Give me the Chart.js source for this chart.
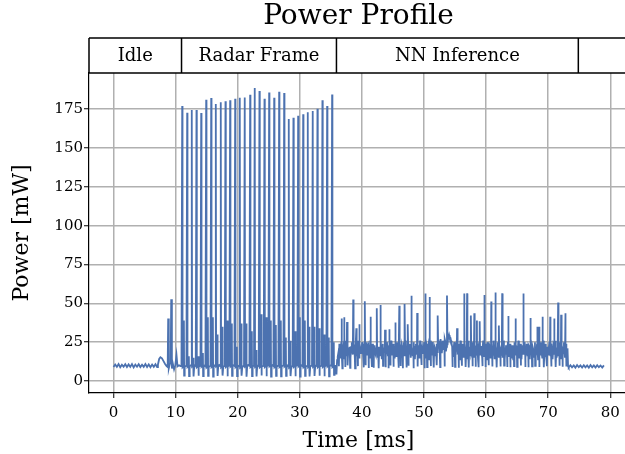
<!DOCTYPE html>
<html><head><meta charset="utf-8">
<script src="https://cdn.jsdelivr.net/npm/chart.js@4.4.1/dist/chart.umd.min.js"></script>
<style>html,body{margin:0;padding:0;overflow:hidden;background:#fff}#wrap{width:630px;height:454px;position:relative;overflow:hidden}</style>
</head><body><div id="wrap"><canvas id="c" width="630" height="454"></canvas></div>
<script>
const titleText = 'Power Profile';
const xLabel = 'Time [ms]';
const yLabel = 'Power [mW]';
const xTicks = [0,10,20,30,40,50,60,70,80];
const yTicks = [0,25,50,75,100,125,150,175];
const phaseLabels = ['Idle','Radar Frame','NN Inference',''];
const phaseEdges = [10.95, 35.9, 74.85];

// idle at start, sampled every 0.27 ms from 0 ms
const idleStartT0 = 0, idleStep = 0.27;
const idleStart = [9.0,10.6,9.1,10.9,8.9,10.5,9.2,10.8,9.0,10.7,9.1,10.9,8.8,10.6,9.2,10.8,9.0,10.5,9.1,10.9,9.0,10.7,8.9,10.6,9.1,10.8,9.0];

// wake-up transition
const wakeT = [7.15,7.35,7.55,7.8,8.05,8.3,8.55,8.72,8.8,8.9,9.05,9.2,9.29,9.4,9.55,9.75,9.95,10.14,10.3,10.55,10.8];
const wakeP = [10.5,14.2,15.3,14.6,12.8,11.0,9.6,9.0,40.3,8.2,10.8,11.5,52.6,8.0,11.2,7.5,10.2,16.7,9.4,10.1,9.6];

// radar frame chirps
const radarT = [11.06,11.86,12.60,13.36,14.12,14.92,15.73,16.47,17.27,18.03,18.78,19.59,20.33,21.13,22.00,22.74,23.50,24.31,25.06,25.87,26.67,27.48,28.22,28.97,29.73,30.54,31.28,32.08,32.84,33.64,34.40,35.20];
const radarPeak = [176.9,172.6,174.4,174.4,172.4,181.0,182.1,178.2,179.3,180.1,180.6,181.6,182.3,182.5,184.2,188.5,186.6,181.6,185.7,182.3,186.1,185.3,168.6,169.4,170.7,171.6,172.9,173.7,175.2,180.6,176.9,184.4];
const radarSecond = [39,16,15,16,18,41,41,30,35,39,37,22,37,37,32,20,43,41,39,36,39,28,26,32,41,39,35,35,34,30,28,25];
const radarDip = [3.5,3.2,3.0,3.4,3.1,3.3,2.9,3.2,3.5,3.0,3.3,3.1,3.4,2.8,3.2,3.0,3.5,3.1,2.9,3.3,3.0,3.4,3.2,3.1,2.8,3.3,3.0,3.2,3.4,3.1,3.0,4.0];
const radarBase = [9.6,9.9,10.2,9.7,10.0,9.5,9.8,10.3,9.6,9.9,10.1,9.7,9.5,10.2,9.8,10.0,9.6,9.9,10.3,9.7,9.8,10.1,9.5,9.9,10.2,9.6,9.8,10.0,9.7,9.9,10.1,9.8];

// radar -> NN transition
const exitT = [35.8,35.9,36.0,36.1];
const exitP = [10.3,4.3,13.5,15.6];

// NN inference band, sampled every 1/6 ms from 36.2 ms
const nnT0 = 36.2, nnStep = 1/6;
const nnBand = [
18,24,15,25,17,23,14,26,16,24,18,22,
15,25,17,24,14,23,16,26,15,22,18,25,
16,24,14,25,17,23,15,26,16,24,14,23,
17,25,15,22,16,26,14,24,18,23,15,25,
16,23,14,26,17,24,15,22,16,25,14,24,
18,23,15,25,16,26,14,23,17,24,15,22,
16,25,14,24,17,23,15,26,16,22,18,25,
15,24,16,23,14,26,17,25,15,22,16,24,
18,26,19,27,18,26,20,27,19,24,27,29.6,
28,26,22,16,25,15,23,17,24,14,26,16,
24,15,25,17,23,14,26,16,22,18,25,15,
23,16,24,14,25,17,22,15,26,16,24,14,
25,17,23,15,24,16,26,14,23,17,25,15,
22,16,24,15,26,14,23,17,25,16,24,15,
23,14,25,17,22,16,26,15,24,14,23,17,
25,15,24,16,23,14,26,17,22,15,25,16,
24,14,23,17,25,15,26,16,24,15,22,17,
25,16,24,14,23,17,26,15,24,16,25,14,
23,17,25,15,24,16];
// second interleaved set of band samples (offset by 1/12 ms)
const nnBand2 = [
21,19,22,18,20,21,19,22,20,18,21,19,
22,20,19,21,18,22,20,19,21,20,19,22,
20,18,21,19,22,20,18,21,20,19,22,18,
21,20,19,22,18,21,20,19,21,18,22,20,
19,21,18,22,20,19,21,20,18,21,19,22,
20,19,22,18,21,20,19,22,18,21,20,19,
21,18,22,20,19,21,18,22,20,19,21,20,
19,22,20,18,21,19,22,20,18,21,19,22,
22,23,21,24,22,23,24,25,22,23,27,28,
27,24,19,21,20,18,21,19,22,18,21,20,
19,22,20,18,21,19,22,20,18,21,20,19,
22,18,21,20,19,22,18,21,20,19,21,18,
20,19,22,18,21,20,19,22,18,21,20,19,
21,18,22,20,19,21,18,22,20,19,21,20,
19,22,20,18,21,19,22,20,18,21,19,22,
20,19,21,18,22,20,19,21,20,18,21,19,
22,20,19,21,18,22,20,19,21,20,19,22,
20,18,21,19,22,20,18,21,20,19,22,18,
21,20,19,22,18,21];
const nnSpikeT = [36.72,37.13,37.6,38.6,39.1,39.6,40.48,41.38,42.42,42.99,43.72,44.42,45.37,46.02,46.87,47.38,47.96,48.9,50.2,50.9,52.2,53.7,55.32,56.45,56.94,57.55,58.1,58.52,58.98,59.7,60.83,61.52,62.07,62.59,63.58,64.75,66.02,67.13,68.25,68.52,69.1,70.32,70.95,71.6,72.08,72.78];
const nnSpikeV = [40.3,41,38,52.5,34,36.6,51.3,41.4,46.8,48.9,33,33.3,37.6,48.5,49.5,36.5,54.9,43.8,56.4,54,42.2,55,33.9,56.4,56.4,42.2,43.6,38.9,38.5,55.3,51.2,57,35.7,56.4,41.9,40.3,56.4,40.5,34.9,34.9,41.4,41.4,40.3,50.6,42.7,43.6];
const nnDipT = [36.3,36.85,37.3,37.75,38.1,38.9,39.35,40.3,40.6,41.1,41.6,41.9,42.7,43.4,43.85,44.3,44.6,45.1,45.9,46.2,46.6,47.2,47.5,48.3,49.0,49.6,50.1,50.5,51.1,51.6,52.05,52.6,53.3,54.6,55.0,55.6,56.1,56.7,57.2,57.8,58.3,58.8,59.4,59.9,60.4,61.0,61.7,62.3,62.9,63.4,63.9,64.5,65.0,65.6,66.3,66.8,67.4,67.9,68.6,69.3,69.8,70.5,71.2,71.8,72.3,72.9];
const nnDipV = [9.5,8.2,9.0,10.1,8.5,8.2,9.6,8.8,10.2,8.4,9.1,8.6,8.2,9.8,8.9,8.3,10.0,9.2,8.5,9.7,8.3,8.8,9.9,8.2,9.4,10.3,8.2,9.0,9.6,8.7,10.1,8.9,9.3,9.0,9.2,8.6,9.8,9.1,8.7,9.5,9.2,8.9,9.6,9.0,10.2,9.3,8.8,9.4,9.9,9.1,8.8,9.6,9.2,10.0,9.0,8.9,9.5,9.7,9.1,8.9,9.6,9.3,9.0,9.8,9.2,9.4];

// NN -> idle transition and idle at end
const endT = [73.1,73.2];
const endP = [16,9.5];
const idleEndT0 = 73.3;
const idleEnd = [8.7,10.2,8.8,10.0,8.6,10.3,8.9,10.1,8.7,10.2,8.8,10.0,8.6,10.3,8.8,10.1,8.7,10.2,8.9,10.0,8.7,10.1];

const pts = [];
idleStart.forEach((v,i)=>pts.push({x:idleStartT0+i*idleStep,y:v}));
wakeT.forEach((t,i)=>pts.push({x:t,y:wakeP[i]}));
radarT.forEach((t,i)=>{
  const b = radarBase[i];
  pts.push({x:t-0.12,y:b});
  pts.push({x:t,y:radarPeak[i]});
  pts.push({x:t+0.05,y:b-0.8});
  pts.push({x:t+0.24,y:b});
  pts.push({x:t+0.27,y:radarSecond[i]});
  pts.push({x:t+0.31,y:radarDip[i]});
  pts.push({x:t+0.4,y:b-0.5});
  pts.push({x:t+0.55,y:b});
});
exitT.forEach((t,i)=>pts.push({x:t,y:exitP[i]}));
nnBand.forEach((v,i)=>pts.push({x:nnT0+i*nnStep,y:v}));
nnBand2.forEach((v,i)=>pts.push({x:nnT0+nnStep/2+i*nnStep,y:v}));
nnSpikeT.forEach((t,i)=>pts.push({x:t,y:nnSpikeV[i]}));
nnDipT.forEach((t,i)=>pts.push({x:t,y:nnDipV[i]}));
endT.forEach((t,i)=>pts.push({x:t,y:endP[i]}));
idleEnd.forEach((v,i)=>pts.push({x:idleEndT0+i*idleStep,y:v}));
pts.sort((a,b)=>a.x-b.x);

const SERIF = "'DejaVu Serif', serif";

const tablePlugin = {
  id:'phaseTable',
  afterDraw(chart){
    const {ctx, chartArea:{left,right,top}, scales:{x}} = chart;
    const y0 = 38, y1 = top;
    const edges = [left, ...phaseEdges.map(v=>x.getPixelForValue(v)), right];
    ctx.save();
    ctx.strokeStyle = '#000'; ctx.lineWidth = 1.5;
    ctx.beginPath();
    ctx.moveTo(left,y0); ctx.lineTo(right+10,y0);
    ctx.moveTo(left,y1); ctx.lineTo(right+10,y1);
    edges.forEach(e=>{ctx.moveTo(e,y0); ctx.lineTo(e,y1);});
    ctx.stroke();
    ctx.fillStyle = '#000';
    ctx.font = "18px " + SERIF;
    ctx.textAlign = 'center'; ctx.textBaseline = 'middle';
    for (let i=0;i<phaseLabels.length;i++){
      ctx.fillText(phaseLabels[i], (edges[i]+edges[i+1])/2, (y0+y1)/2+1);
    }
    ctx.font = "28px " + SERIF;
    ctx.fillText(titleText, (left+right)/2, 17);
    ctx.restore();
  }
};

new Chart(document.getElementById('c'), {
  type:'line',
  data:{datasets:[{data:pts, borderColor:'#4c72b0', borderWidth:1.8, pointRadius:0, tension:0, fill:false}]},
  options:{
    responsive:false, animation:false,
    layout:{padding:{top:73,right:2,left:0,bottom:0}},
    plugins:{legend:{display:false}, tooltip:{enabled:false}, title:{display:false}},
    scales:{
      x:{type:'linear', min:-3.95, max:82.85,
        afterBuildTicks:s=>{s.ticks = xTicks.map(v=>({value:v}));},
        grid:{color:'#b0b0b0', lineWidth:1.5, tickColor:'#000', tickWidth:1, tickLength:5},
        border:{display:true, color:'#000', width:1.2},
        ticks:{font:{family:SERIF,size:15}, color:'#000', padding:6, maxRotation:0, autoSkip:false},
        title:{display:true, text:xLabel, font:{family:SERIF,size:22}, color:'#000', padding:{top:0,bottom:0}},
        afterFit:s=>{s.height = 61;}
      },
      y:{type:'linear', min:-7.7, max:198.2,
        afterBuildTicks:s=>{s.ticks = yTicks.map(v=>({value:v}));},
        grid:{color:'#b0b0b0', lineWidth:1.5, tickColor:'#000', tickWidth:1, tickLength:5},
        border:{display:true, color:'#000', width:1.2},
        ticks:{font:{family:SERIF,size:15}, color:'#000', padding:1, autoSkip:false},
        title:{display:true, text:yLabel, font:{family:SERIF,size:22}, color:'#000', padding:{top:9,bottom:0}},
        afterFit:s=>{s.width = 89;}
      }
    }
  },
  plugins:[tablePlugin]
});
</script></body></html>
